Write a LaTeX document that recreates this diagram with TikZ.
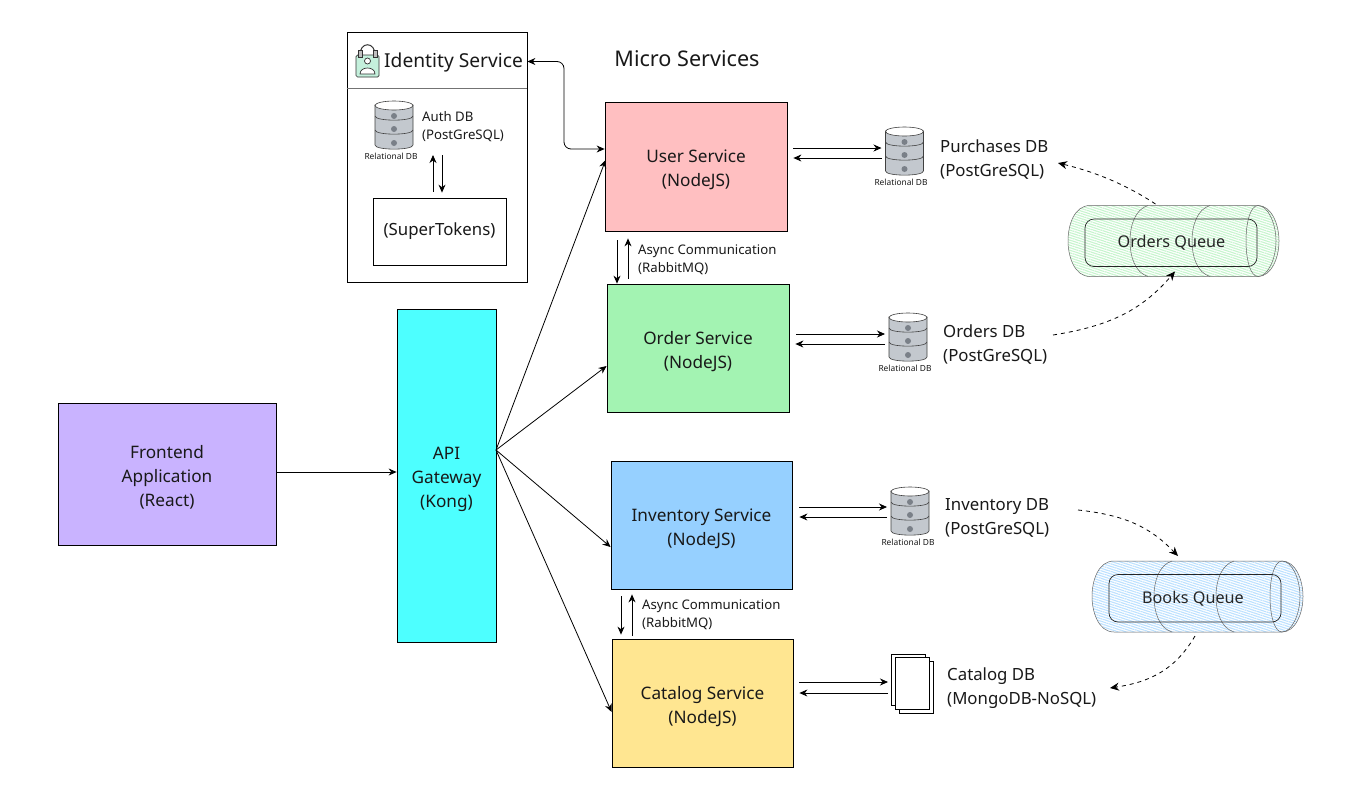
\documentclass[tikz,border=0pt]{standalone}
\usepackage{fontspec}
\setmainfont{Noto Sans}
\usetikzlibrary{arrows.meta,patterns.meta,calc}
\definecolor{cfront}{HTML}{C9B3FF}
\definecolor{capi}{HTML}{4DFFFF}
\definecolor{cuser}{HTML}{FFBFC1}
\definecolor{corder}{HTML}{A3F3B2}
\definecolor{cinv}{HTML}{96D0FF}
\definecolor{ccat}{HTML}{FFE691}
\definecolor{cdb}{HTML}{C3C8CE}
\definecolor{cdot}{HTML}{7A8088}
\definecolor{cmint}{HTML}{C4F0DC}
\definecolor{qgreen}{HTML}{C6F5CD}
\definecolor{qblue}{HTML}{BCE1FF}
\newcommand{\topfix}{\rule{0pt}{20pt}}
\tikzset{
  svcbox/.style={draw=black,line width=0.8pt,inner sep=0pt,align=center,text=black!90,font=\fontsize{17.2}{24}\selectfont},
  labeltxt/.style={inner sep=0pt,align=left,anchor=west,text=black!90,font=\fontsize{16.8}{24}\selectfont},
  smalltxt/.style={inner sep=0pt,align=left,anchor=west,text=black!90,font=\fontsize{13.2}{18}\selectfont},
  tinytxt/.style={inner sep=0pt,text=black!90,font=\fontsize{8.4}{10}\selectfont},
  arr/.style={line width=0.8pt,draw=black,-{Stealth[length=8pt,width=7pt]}},
  darr/.style={line width=0.8pt,draw=black,dash pattern=on 4pt off 4pt,-{Stealth[length=9pt,width=8pt]}},
  anchorbox/.style={inner sep=0pt,outer sep=0pt},
}
\newcommand{\dbicon}[3]{% name, left, top
  \node[anchorbox,minimum width=38pt,minimum height=48pt] (#1) at (#2+19,#3+24) {};
  \begin{scope}[shift={(#2,#3)}]
    \path[draw=black!75,line width=0.6pt,fill=cdb] (0,4) -- (0,44) .. controls (0,49.5) and (38,49.5) .. (38,44) -- (38,4) -- cycle;
    \draw[black!75,line width=0.6pt,fill=white] (19,4.5) ellipse [x radius=19pt,y radius=4.5pt];
    \draw[black!75,line width=0.6pt] (0,15) .. controls (0,20.5) and (38,20.5) .. (38,15);
    \draw[black!75,line width=0.6pt] (0,29) .. controls (0,34.5) and (38,34.5) .. (38,29);
    \fill[cdot] (19,15) circle [radius=3pt] (19,28) circle [radius=3pt] (19,42) circle [radius=3pt];
  \end{scope}
}
\newcommand{\queuebody}[6]{% name, left, top, colour, text, text x
  \node[anchorbox,minimum width=211pt,minimum height=71pt] (#1) at (#2+105.5,#3+35.5) {};
  \begin{scope}[shift={(#2,#3)},line width=0.5pt]
    \path[draw=black!60,pattern={Lines[angle=-18,distance=2.4pt,line width=1.1pt]},pattern color=#4]
      (22,0) -- (190,0) .. controls (203,0) and (211,18) .. (211,35.5) .. controls (211,53) and (203,71) .. (190,71)
      -- (22,71) .. controls (6,71) and (0,50) .. (0,35.5) .. controls (0,20) and (6,0) .. (22,0) -- cycle;
    \draw[black!60] (190,0) .. controls (200,0) and (208,18) .. (208,35.5) .. controls (208,53) and (200,71) .. (190,71);
    \draw[black!60] (190,0) .. controls (182,0) and (178,18) .. (178,35.5) .. controls (178,53) and (182,71) .. (190,71);
    \draw[black!60] (80,0) .. controls (67,4) and (62,20) .. (62,35.5) .. controls (62,51) and (67,67) .. (80,71);
    \draw[black!60] (142,0) .. controls (129,4) and (124,20) .. (124,35.5) .. controls (124,51) and (129,67) .. (142,71);
    \draw[black!85,line width=0.7pt,rounded corners=9pt] (17,13.5) rectangle (189,61);
    \node[inner sep=0pt,text=black!85,font=\fontsize{16.2}{18}\selectfont] at (#6,37.5) {#5};
  \end{scope}
}
\begin{document}
\begin{tikzpicture}[x=1pt,y=-1pt]
\useasboundingbox (0,0) rectangle (1363,801);
\fill[white] (0,0) rectangle (1363,801);

% main boxes
\node[svcbox,fill=cfront,minimum width=218pt,minimum height=142pt] (front) at (167,474) {\topfix Frontend\\Application\\(React)};
\node[svcbox,fill=capi,minimum width=99pt,minimum height=333pt] (api) at (446.5,475.5) {\topfix API\\Gateway\\(Kong)};
\node[svcbox,fill=cuser,minimum width=182pt,minimum height=129pt] (user) at (696,166.5) {\topfix User Service\\(NodeJS)};
\node[svcbox,fill=corder,minimum width=182pt,minimum height=128pt] (order) at (698,348) {\topfix Order Service\\(NodeJS)};
\node[svcbox,fill=cinv,minimum width=181pt,minimum height=128pt] (inv) at (701.5,525) {\topfix Inventory Service\\(NodeJS)};
\node[svcbox,fill=ccat,minimum width=181pt,minimum height=128pt] (cat) at (702.5,703) {\topfix Catalog Service\\(NodeJS)};

% identity service
\node[draw=black,line width=0.8pt,fill=white,inner sep=0pt,minimum width=180pt,minimum height=250pt] (identity) at (437,157) {};
\draw[black!55,line width=0.7pt] (identity.west |- 0,88) -- (identity.east |- 0,88);
\path[draw=black!80,line width=0.7pt,fill=cmint,rounded corners=1.5pt] (356,55) rectangle (379,77);
\draw[black!80,line width=1pt] (360,56) .. controls (359,41) and (376,41) .. (375,56);
\draw[black!80,line width=0.7pt,fill=black!25] (358,50) rectangle (362,57) (373,50) rectangle (377,57);
\draw[black!80,line width=0.7pt,fill=white] (367.5,61) circle [radius=3pt];
\draw[black!80,line width=0.7pt,fill=white] (360,74) .. controls (360,66) and (375,66) .. (375,74) -- cycle;
\node[inner sep=0pt,anchor=west,text=black!90,font=\fontsize{19.2}{22}\selectfont] (idtitle) at (384,63) {Identity Service};
\node[inner sep=0pt,text=black!90,font=\fontsize{21.6}{24}\selectfont] (mstitle) at (687,58.5) {Micro Services};
\node[draw=black,line width=0.8pt,fill=white,inner sep=0pt,minimum width=133pt,minimum height=67pt,font=\fontsize{16.8}{20}\selectfont,text=black!90] (super) at (439.5,231.5) {(SuperTokens)};

% databases
\dbicon{authdb}{375}{101}
\dbicon{purdb}{885.5}{127}
\dbicon{orddb}{889}{313}
\dbicon{invdb}{891}{487}
\node[tinytxt] (authrel) at (391,156.5) {Relational DB};
\node[tinytxt] (purrel) at (901,182.5) {Relational DB};
\node[tinytxt] (ordrel) at (905,368.5) {Relational DB};
\node[tinytxt] (invrel) at (908,542.5) {Relational DB};

% document db
\node[anchorbox,minimum width=42pt,minimum height=59pt] (catdb) at (912,684) {};
\draw[black,line width=0.9pt,fill=white] (891,654) rectangle (925,705);
\draw[black,line width=0.9pt,fill=white] (899,661.5) rectangle (933,713);
\draw[black,line width=0.9pt,fill=white] (895,657.5) rectangle (929,709);

% db labels
\node[smalltxt] (authlbl) at (422,126.5) {Auth DB\\(PostGreSQL)};
\node[labeltxt] (purlbl) at (940,159.5) {Purchases DB\\(PostGreSQL)};
\node[labeltxt] (ordlbl) at (943,344.5) {Orders DB\\(PostGreSQL)};
\node[labeltxt] (invlbl) at (945,517.5) {Inventory DB\\(PostGreSQL)};
\node[labeltxt] (catlbl) at (947,688.5) {Catalog DB\\(MongoDB-NoSQL)};
\node[smalltxt] (async1) at (638,260) {Async Communication\\(RabbitMQ)};
\node[smalltxt] (async2) at (642,615) {Async Communication\\(RabbitMQ)};

% queues
\queuebody{ordq}{1068}{205.5}{qgreen}{Orders Queue}{103.5}
\queuebody{bookq}{1092}{561}{qblue}{Books Queue}{101}

% gateway connectors
\draw[arr] (front.east |- 0,472) -- (api.west |- 0,472);
\coordinate (apiport) at (496,450);
\draw[arr] (apiport) -- ([shift={(1,-6.5)}]user.west);
\draw[arr] (apiport) -- (order.west |- 0,366);
\draw[arr] (apiport) -- (inv.west |- 0,547);
\draw[arr] (apiport) -- (cat.west |- 0,712);

% identity <-> user
\draw[line width=0.8pt,{Stealth[length=8pt,width=7pt]}-{Stealth[length=8pt,width=7pt]},rounded corners=7pt]
  (identity.east |- 0,61.5) -- (564,61.5) -- (564,149) -- (user.west |- 0,149);

% auth db <-> supertokens
\draw[arr] ([shift={(-6.5,-6)}]super.north) -- (433,155);
\draw[arr] (442,155) -- ([shift={(2.5,-5)}]super.north);

% service <-> db
\draw[arr] ([shift={(6,-18.5)}]user.east) -- ([xshift=-4pt]purdb.west |- 0,148);
\draw[arr] ([xshift=-4pt]purdb.west |- 0,158) -- ([shift={(6,-8.5)}]user.east);
\draw[arr] ([shift={(7,-14)}]order.east) -- ([xshift=-4pt]orddb.west |- 0,334);
\draw[arr] ([xshift=-4pt]orddb.west |- 0,344) -- ([shift={(6,-4)}]order.east);
\draw[arr] ([shift={(7,-18)}]inv.east) -- ([xshift=-4pt]invdb.west |- 0,507);
\draw[arr] ([xshift=-4pt]invdb.west |- 0,517) -- ([shift={(7,-8)}]inv.east);
\draw[arr] ([shift={(6,-21)}]cat.east) -- ([xshift=-3pt]catdb.west |- 0,682);
\draw[arr] ([xshift=-3pt]catdb.west |- 0,693) -- ([shift={(6,-10)}]cat.east);

% async
\draw[arr] (617,240) -- (order.north -| 617,0);
\draw[arr] (628,279) -- ($(user.south -| 628,0)+(0,7)$);
\draw[arr] (621,596) -- ($(cat.north -| 621,0)+(0,-4)$);
\draw[arr] (632,636) -- ($(inv.south -| 632,0)+(0,5)$);

% queue flows
\draw[darr] ([shift={(-18,-1.5)}]ordq.north) .. controls (1125,184) and (1095,172) .. (1058,163);
\draw[darr] (1053,335) .. controls (1110,326) and (1142,310) .. ([shift={(1.5,-5)}]ordq.south);
\draw[darr] (1078,510) .. controls (1125,515) and (1150,527) .. ([shift={(-19.5,-5)}]bookq.north);
\draw[darr] ([shift={(-2.5,4)}]bookq.south) .. controls (1175,670) and (1150,682) .. (1110,688);
\end{tikzpicture}
\end{document}
